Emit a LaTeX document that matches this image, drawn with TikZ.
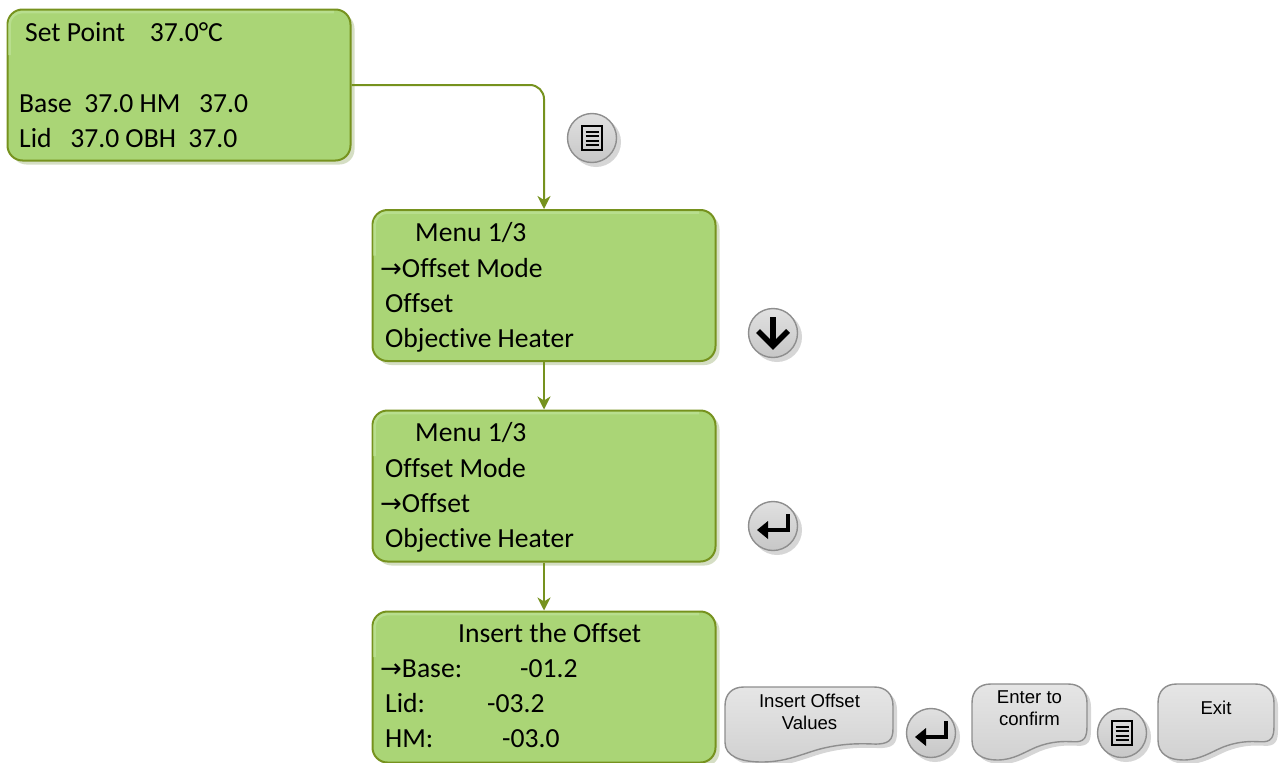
\documentclass[tikz,border=0pt]{standalone}
\usepackage{fontspec}
\setmainfont[Ligatures=NoCommon]{Carlito}
\newfontfamily\wavefont{Liberation Sans}
\newfontfamily\arrowfont{DejaVu Sans}
\usetikzlibrary{arrows.meta}
\definecolor{scrfill}{HTML}{AAD576}
\definecolor{scrline}{HTML}{76921E}
\definecolor{scrhl}{HTML}{B8DE8E}
\definecolor{scrshadow}{HTML}{D5DEC4}
\definecolor{greyline}{HTML}{8E8E8E}
\definecolor{greyshadow}{HTML}{D6D6D6}
\tikzset{
  x=1pt,y=-1pt,
  screenbox/.style={draw=scrline,fill=scrfill,line width=2pt,rounded corners=15pt,minimum width=343pt,minimum height=151pt,inner sep=0pt},
  screenshadow/.style={fill=scrshadow,rounded corners=15pt,minimum width=343pt,minimum height=151pt,inner sep=0pt},
  screentext/.style={anchor=base west,inner sep=0pt,font=\fontsize{27.6}{32}\selectfont,text=black},
  flow/.style={draw=scrline,line width=2pt,-{Stealth[length=13pt,width=13pt,inset=4pt]},rounded corners=14pt},
  keybtn/.style={circle,draw=greyline,line width=1.4pt,minimum size=49pt,inner sep=0pt,top color=white!88!black,bottom color=white!78!black},
  keyshadow/.style={circle,fill=greyshadow,minimum size=50pt,inner sep=0pt},
  wavetext/.style={inner sep=0pt,align=center,font=\wavefont\fontsize{18.6}{22}\selectfont,text=black},
  waveline/.style={draw=greyline,line width=1.4pt,top color=white!90!black,bottom color=white!82!black},
  glyph/.style={line width=5.5pt,black},
}
\newcommand{\arw}{{\arrowfont\fontsize{26}{32}\selectfont →}}
\newcommand{\screenat}[3]{%
  \node[screenshadow] at (#2+4,#3+4) {};
  \node[screenbox] (#1) at (#2,#3) {};
  \draw[scrhl,line width=2.5pt,rounded corners=13pt] (#2-169.5,#3-30) -- (#2-169.5,#3-73) -- (#2+155,#3-73);
}
\newcommand{\wavepath}[4]{%
  (#1+19,#2) -- (#1+#3-19,#2)
  .. controls (#1+#3-7,#2) and (#1+#3,#2+7) .. (#1+#3,#2+19)
  -- (#1+#3,#2+.55*#4)
  .. controls (#1+#3,#2+.70*#4) and (#1+.98*#3,#2+.77*#4) .. (#1+.88*#3,#2+.76*#4)
  .. controls (#1+.78*#3,#2+.75*#4) and (#1+.68*#3,#2+.76*#4) .. (#1+.56*#3,#2+.83*#4)
  .. controls (#1+.45*#3,#2+.90*#4) and (#1+.36*#3,#2+#4) .. (#1+.22*#3,#2+#4)
  .. controls (#1+.09*#3,#2+#4) and (#1,#2+.92*#4) .. (#1,#2+.74*#4)
  -- (#1,#2+19)
  .. controls (#1,#2+7) and (#1+7,#2) .. (#1+19,#2) -- cycle
}
\newcommand{\waveat}[4]{%
  \fill[greyshadow] \wavepath{#1+4}{#2+4}{#3}{#4};
  \path[waveline] \wavepath{#1}{#2}{#3}{#4};
}
\newcommand{\keyat}[3]{%
  \node[keyshadow] at (#2+4,#3+4) {};
  \node[keybtn] (#1) at (#2,#3) {};
}
\newcommand{\menuglyph}[2]{%
  \draw[black,line width=2.4pt] (#1-10,#2-12) rectangle (#1+10,#2+12);
  \foreach \dy in {-6.5,-2,2.5,7}
    \draw[black,line width=2pt] (#1-6.5,#2+\dy) -- (#1+6.5,#2+\dy);
}
\newcommand{\enterglyph}[2]{%
  \draw[black,line width=4.5pt] (#1+15,#2-12) -- (#1+15,#2+4) -- (#1-6,#2+4);
  \fill[black] (#1-16,#2+4) -- (#1-5,#2-5) -- (#1-5,#2+13) -- cycle;
}
\newcommand{\downglyph}[2]{%
  \draw[glyph] (#1,#2-16) -- (#1,#2+12);
  \draw[glyph,miter limit=10] (#1-15,#2-2) -- (#1,#2+13) -- (#1+15,#2-2);
}
\begin{document}
\begin{tikzpicture}
\useasboundingbox (0,0) rectangle (1283,763);

\screenat{scrA}{179}{85}
\screenat{scrB}{544}{285.5}
\screenat{scrC}{544}{486}
\screenat{scrD}{544}{687}

\draw[flow] (scrA.east) -| (scrB.north);
\draw[flow] (scrB.south) -- (scrC.north);
\draw[flow] (scrC.south) -- (scrD.north);

\node[screentext] (a1) at (25,41) {Set Point\ \ \ \ 37.0°C};
\node[screentext] (a2) at (19,112) {Base\ \ 37.0 HM\ \ \ 37.0};
\node[screentext] (a3) at (19,147) {Lid\ \ \ 37.0 OBH\ \ 37.0};

\node[screentext] (b1) at (415,241) {Menu 1/3};
\node[screentext] (b2) at (380,277) {\arw Offset Mode};
\node[screentext] (b3) at (385,312) {Offset};
\node[screentext] (b4) at (385,347) {Objective Heater};

\node[screentext] (c1) at (415,441) {Menu 1/3};
\node[screentext] (c2) at (385,477) {Offset Mode};
\node[screentext] (c3) at (380,512) {\arw Offset};
\node[screentext] (c4) at (385,547) {Objective Heater};

\node[screentext] (d1) at (458,642) {Insert the Offset};
\node[screentext] (d2) at (380,677) {\arw Base:};
\node[screentext] (d2v) at (520,677) {-01.2};
\node[screentext] (d3) at (385,712) {Lid:};
\node[screentext] (d3v) at (487,712) {-03.2};
\node[screentext] (d4) at (385,747) {HM:};
\node[screentext] (d4v) at (502,747) {-03.0};

\keyat{keyA}{592}{138} \menuglyph{592}{138}
\keyat{keyB}{773}{333} \downglyph{773}{333}
\keyat{keyC}{773}{526} \enterglyph{773}{526}
\keyat{keyD}{931}{733} \enterglyph{931}{733}
\keyat{keyE}{1122}{733} \menuglyph{1122}{733}

\waveat{725}{687}{168}{75}
\waveat{972}{684}{115}{76}
\waveat{1158}{684}{116}{76}
\node[wavetext] (w1) at (809.5,712) {Insert Offset\\Values};
\node[wavetext] (w2) at (1029.5,708) {Enter to\\confirm};
\node[wavetext] (w3) at (1216,708) {Exit};
\end{tikzpicture}
\end{document}
